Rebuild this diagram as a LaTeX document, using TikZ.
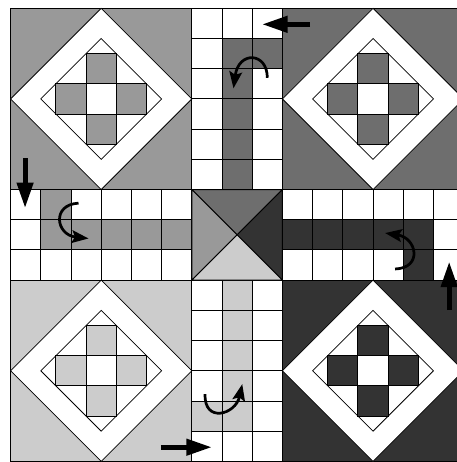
\documentclass[tikz,border=0pt]{standalone}
\usepackage{tikz}
\usetikzlibrary{arrows.meta}

\definecolor{homeTL}{gray}{0.60}
\definecolor{homeTR}{gray}{0.43}
\definecolor{homeBL}{gray}{0.80}
\definecolor{homeBR}{gray}{0.20}

\begin{document}
\begin{tikzpicture}[
    x=1cm, y=-1cm,
    cell/.style={draw=black, line width=0.9pt},
    ring/.style={draw=black, fill=white, line width=0.7pt},
    bigarr/.style={
        -{Triangle[length=8.5mm,width=5.2mm]},
        line width=1.7mm
    },
    turnarr/.style={
        -{Stealth[length=5.5mm,width=4.2mm,inset=1mm]},
        line width=0.9mm
    }
]
\useasboundingbox (-0.35,-0.275) rectangle (14.75,15.02);

% home yards
\foreach \cx/\cy/\col in {3/3/homeTL, 12/3/homeTR, 3/12/homeBL, 12/12/homeBR} {
    \filldraw[cell, fill=\col] (\cx-3,\cy-3) rectangle (\cx+3,\cy+3);
    \filldraw[ring] (\cx-3,\cy) -- (\cx,\cy-3) -- (\cx+3,\cy) -- (\cx,\cy+3) -- cycle;
    \filldraw[ring] (\cx-2,\cy) -- (\cx,\cy-2) -- (\cx+2,\cy) -- (\cx,\cy+2) -- cycle;
    \filldraw[cell, fill=\col] (\cx-0.5,\cy-1.5) rectangle (\cx+0.5,\cy+1.5);
    \filldraw[cell, fill=\col] (\cx-1.5,\cy-0.5) rectangle (\cx+1.5,\cy+0.5);
    \filldraw[cell, fill=white] (\cx-0.5,\cy-0.5) rectangle (\cx+0.5,\cy+0.5);
}

% home columns and start squares
\fill[homeTR] (7,1) rectangle (8,6);
\fill[homeTR] (8,1) rectangle (9,2);
\fill[homeTL] (1,7) rectangle (6,8);
\fill[homeTL] (1,6) rectangle (2,7);
\fill[homeBR] (9,7) rectangle (14,8);
\fill[homeBR] (13,8) rectangle (14,9);
\fill[homeBL] (7,9) rectangle (8,14);
\fill[homeBL] (6,13) rectangle (7,14);

% track cells
\draw[cell] (6,0) grid (9,6);
\draw[cell] (0,6) grid (6,9);
\draw[cell] (9,6) grid (15,9);
\draw[cell] (6,9) grid (9,15);

% centre
\filldraw[cell, fill=homeTR] (6,6) -- (9,6) -- (7.5,7.5) -- cycle;
\filldraw[cell, fill=homeTL] (6,6) -- (6,9) -- (7.5,7.5) -- cycle;
\filldraw[cell, fill=homeBR] (9,6) -- (9,9) -- (7.5,7.5) -- cycle;
\filldraw[cell, fill=homeBL] (6,9) -- (9,9) -- (7.5,7.5) -- cycle;

% entry arrows
\coordinate (inTR) at (9.92,0.53);
\coordinate (inTRe) at (8.32,0.53);
\coordinate (inTL) at (0.48,4.96);
\coordinate (inTLe) at (0.48,6.62);
\coordinate (inBR) at (14.52,9.99);
\coordinate (inBRe) at (14.52,8.38);
\coordinate (inBL) at (4.98,14.53);
\coordinate (inBLe) at (6.67,14.53);
\draw[bigarr] (inTR) -- (inTRe);
\draw[bigarr] (inTL) -- (inTLe);
\draw[bigarr] (inBR) -- (inBRe);
\draw[bigarr] (inBL) -- (inBLe);

% turn arrows
\draw[turnarr] (8.5,2.3) .. controls (8.5,1.45) and (7.55,1.4) .. (7.38,2.65);
\draw[turnarr] (2.25,6.45) .. controls (1.35,6.5) and (1.5,7.5) .. (2.58,7.62);
\draw[turnarr] (12.73,8.63) .. controls (13.65,8.6) and (13.45,7.6) .. (12.4,7.44);
\draw[turnarr] (6.44,12.77) .. controls (6.4,13.75) and (7.45,13.45) .. (7.67,12.44);

\end{tikzpicture}
\end{document}
